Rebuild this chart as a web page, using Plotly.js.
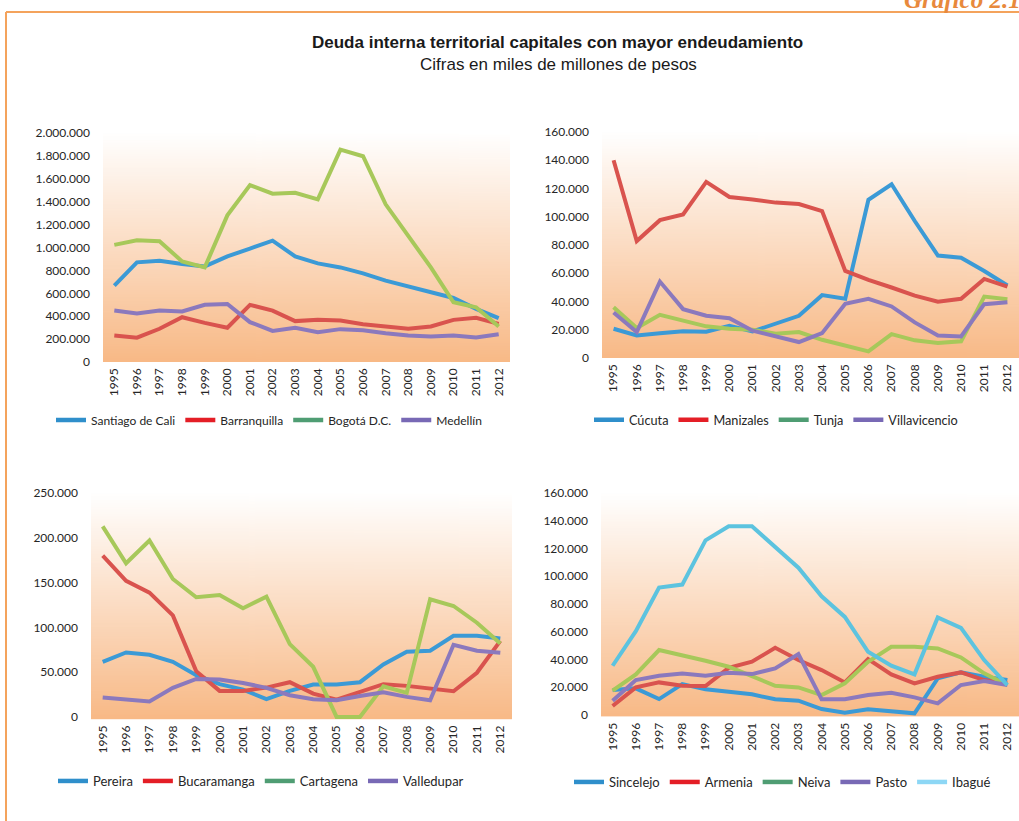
<!DOCTYPE html>
<html>
<head>
<meta charset="utf-8">
<script src="https://cdn.plot.ly/plotly-3.0.1.min.js"></script>
<style>html,body{margin:0;padding:0;background:#fff;}#chart{width:1019px;height:821px;}</style>
</head>
<body>
<div id="chart"></div>
<script>
const years = ['1995','1996','1997','1998','1999','2000','2001','2002','2003','2004','2005','2006','2007','2008','2009','2010','2011','2012'];

// Panel 1 (miles de millones de pesos)
const santiagoDeCali = [667000, 870000, 885000, 855000, 835000, 922000, 991000, 1060000, 922000, 861000, 826000, 774000, 710000, 658000, 603000, 559000, 464000, 383000];
const barranquilla   = [232000, 212000, 290000, 391000, 342000, 299000, 499000, 449000, 357000, 368000, 362000, 330000, 310000, 290000, 310000, 368000, 386000, 333000];
const bogota         = [1023000, 1064000, 1055000, 878000, 826000, 1281000, 1545000, 1470000, 1478000, 1420000, 1855000, 1797000, 1377000, 1101000, 826000, 522000, 478000, 310000];
const medellin       = [449000, 423000, 449000, 441000, 499000, 507000, 348000, 272000, 299000, 261000, 287000, 278000, 252000, 232000, 223000, 232000, 214000, 243000];

// Panel 2
const cucuta        = [20700, 16000, 17600, 19000, 18600, 22800, 18800, 24700, 29900, 44500, 41900, 112000, 123000, 97000, 72500, 71000, 61600, 51300];
const manizales     = [140000, 82800, 97600, 101600, 124700, 114000, 112200, 110000, 109000, 104000, 61600, 55300, 49900, 44200, 39800, 41900, 56000, 50600];
const tunja         = [36000, 21200, 30600, 26400, 22400, 20700, 20000, 17200, 18400, 12900, 8900, 4700, 16900, 12500, 10600, 11800, 43500, 41600];
const villavicencio = [32200, 18400, 54100, 34600, 29900, 28200, 19300, 15300, 11300, 17600, 38400, 41900, 36500, 25200, 16000, 15300, 38100, 39500];

// Panel 3
const pereira     = [61600, 72000, 69400, 61600, 46600, 36600, 30600, 19800, 29100, 36200, 36200, 38800, 58600, 72800, 73900, 90700, 90700, 87700];
const bucaramanga = [180000, 152000, 138800, 113400, 51100, 29100, 29100, 32800, 38800, 26100, 19400, 28000, 36600, 34700, 31700, 28700, 49300, 85000];
const cartagena   = [212700, 171600, 197000, 154000, 133600, 136200, 121300, 134300, 81300, 56000, 0, 0, 34300, 26900, 131300, 123900, 105200, 82000];
const valledupar  = [21600, 19400, 17200, 32500, 42500, 41800, 38000, 32500, 24300, 19800, 18700, 23500, 27600, 22400, 18700, 80600, 73900, 71600];

// Panel 4
const sincelejo = [18000, 19200, 11500, 22300, 18500, 16800, 14900, 11300, 10300, 4300, 1700, 4100, 2400, 1200, 26400, 30700, 27600, 25200];
const armenia   = [6500, 19900, 23500, 21100, 20900, 34000, 38400, 48400, 39600, 32400, 23500, 40300, 29300, 22800, 27600, 30700, 25200, 22800];
const neiva     = [17500, 29300, 46800, 43200, 39100, 34800, 27600, 21100, 19900, 14400, 22800, 38400, 49200, 49200, 48000, 41500, 30000, 21600];
const pasto     = [10300, 25200, 28300, 30000, 28300, 30500, 29500, 33600, 43900, 11300, 11300, 14400, 16100, 12700, 8400, 21600, 24500, 21600];
const ibague    = [35500, 60400, 91800, 94000, 125900, 136000, 136000, 121100, 106200, 85600, 70700, 45600, 35500, 29300, 70300, 62800, 39600, 21600];

const W = 1019, H = 821;
const px = v => v / W;
const py = v => 1 - v / H;

const LINE = {blue:'#3B9AD6', red:'#D9534E', green:'#A7C85A', purple:'#8B79BD', cyan:'#5CC3DF'};
const LEG  = {blue:'#2F8FCB', red:'#E41E26', green:'#4F9D73', purple:'#7869B5', cyan:'#8DD7F5'};

const panels = [
  {ax:'', leg:'legend', series:[['Santiago de Cali', santiagoDeCali,'blue'],['Barranquilla', barranquilla,'red'],['Bogotá D.C.', bogota,'green'],['Medellín', medellin,'purple']]},
  {ax:'2', leg:'legend2', series:[['Cúcuta', cucuta,'blue'],['Manizales', manizales,'red'],['Tunja', tunja,'green'],['Villavicencio', villavicencio,'purple']]},
  {ax:'3', leg:'legend3', series:[['Pereira', pereira,'blue'],['Bucaramanga', bucaramanga,'red'],['Cartagena', cartagena,'green'],['Valledupar', valledupar,'purple']]},
  {ax:'4', leg:'legend4', series:[['Sincelejo', sincelejo,'blue'],['Armenia', armenia,'red'],['Neiva', neiva,'green'],['Pasto', pasto,'purple'],['Ibagué', ibague,'cyan']]}
];

const traces = [];
panels.forEach(p => {
  p.series.forEach(s => {
    traces.push({type:'scatter', mode:'lines', x:years, y:s[1], name:s[0], xaxis:'x'+p.ax, yaxis:'y'+p.ax,
      line:{color:LINE[s[2]], width:4}, showlegend:false, hoverinfo:'x+y+name'});
  });
  p.series.forEach(s => {
    traces.push({type:'scatter', mode:'lines', x:[years[0]], y:[null], name:s[0], xaxis:'x'+p.ax, yaxis:'y'+p.ax,
      line:{color:LEG[s[2]], width:4.5}, showlegend:true, legend:p.leg, hoverinfo:'skip'});
  });
});

function gradient(){
  const c = document.createElement('canvas');
  c.width = 4; c.height = 256;
  const g = c.getContext('2d');
  const lg = g.createLinearGradient(0,0,0,256);
  lg.addColorStop(0,'#FFFFFF');
  lg.addColorStop(1,'#F8B986');
  g.fillStyle = lg; g.fillRect(0,0,4,256);
  return c.toDataURL('image/png');
}
const gsrc = gradient();

const FAM = 'Lato, "Open Sans", sans-serif';
const tickFont = {family:FAM, size:12, color:'#262626'};
function xa(dom, anchor){ return {domain:dom, anchor:anchor, type:'category', range:[-0.5, years.length-0.5], showgrid:false, zeroline:false, showline:false, ticks:'', tickangle:-90, tickfont:tickFont, ticklabelstandoff:3, fixedrange:true}; }
function ya(dom, anchor, min, max, dt){ return {domain:dom, anchor:anchor, range:[min,max], dtick:dt, tick0:0, tickformat:',d', showgrid:false, zeroline:false, showline:false, ticks:'', tickfont:tickFont, ticklabelstandoff:12, fixedrange:true}; }
function lg(x,y,fs){ return {orientation:'h', x:px(x), y:py(y), xanchor:'left', yanchor:'middle', font:{family:FAM, size:fs, color:'#262626'}, bgcolor:'rgba(0,0,0,0)', itemclick:false, itemdoubleclick:false}; }

const layout = {
  width:W, height:H, margin:{l:0,r:0,t:0,b:0,autoexpand:false},
  paper_bgcolor:'#FFFFFF', plot_bgcolor:'rgba(0,0,0,0)',
  separators:',.', hovermode:'closest',
  xaxis: xa([px(103), px(510)], 'y'),   yaxis: ya([py(362), py(133)], 'x', 0, 2000000, 200000),
  xaxis2:xa([px(602), px(1019)], 'y2'), yaxis2:ya([py(358), py(132)], 'x2', 0, 160000, 20000),
  xaxis3:xa([px(91), px(512)], 'y3'),   yaxis3:ya([py(719.2), py(493)], 'x3', -2500, 250000, 50000),
  xaxis4:xa([px(601), px(1019)], 'y4'), yaxis4:ya([py(716.4), py(493)], 'x4', -1000, 160000, 20000),
  legend: lg(51, 420, 12), legend2: lg(589, 420, 12.7), legend3: lg(53, 781, 13), legend4: lg(569, 782, 13),
  images: ['', '2', '3', '4'].map(a => ({source:gsrc, xref:'x'+a+' domain', yref:'y'+a+' domain', x:0, y:1, sizex:1, sizey:1, xanchor:'left', yanchor:'top', sizing:'stretch', layer:'below'})),
  shapes: [
    {type:'line', xref:'paper', yref:'paper', x0:px(6), x1:1, y0:py(12), y1:py(12), line:{color:'#F4A35C', width:2}},
    {type:'line', xref:'paper', yref:'paper', x0:px(6), x1:px(6), y0:py(12), y1:0, line:{color:'#F4A35C', width:2}}
  ],
  annotations: [
    {xref:'paper', yref:'paper', x:px(557), y:py(43), xanchor:'center', yanchor:'middle', showarrow:false,
     text:'<b>Deuda interna territorial capitales con mayor endeudamiento</b>', font:{family:'"Liberation Sans Narrow", "Liberation Sans", sans-serif', size:17, color:'#1a1a1a'}},
    {xref:'paper', yref:'paper', x:px(558), y:py(65), xanchor:'center', yanchor:'middle', showarrow:false,
     text:'Cifras en miles de millones de pesos', font:{family:'"Liberation Sans Narrow", "Liberation Sans", sans-serif', size:17, color:'#1a1a1a'}},
    {xref:'paper', yref:'paper', x:px(902), y:py(15), xanchor:'left', yanchor:'bottom', showarrow:false,
     text:'<b><i>Gráfico 2.1</i></b>', font:{family:'"Liberation Serif", serif', size:25, color:'#E8893C'}}
  ]
};

Plotly.newPlot('chart', traces, layout, {displayModeBar:false, staticPlot:false});
</script>
</body>
</html>
